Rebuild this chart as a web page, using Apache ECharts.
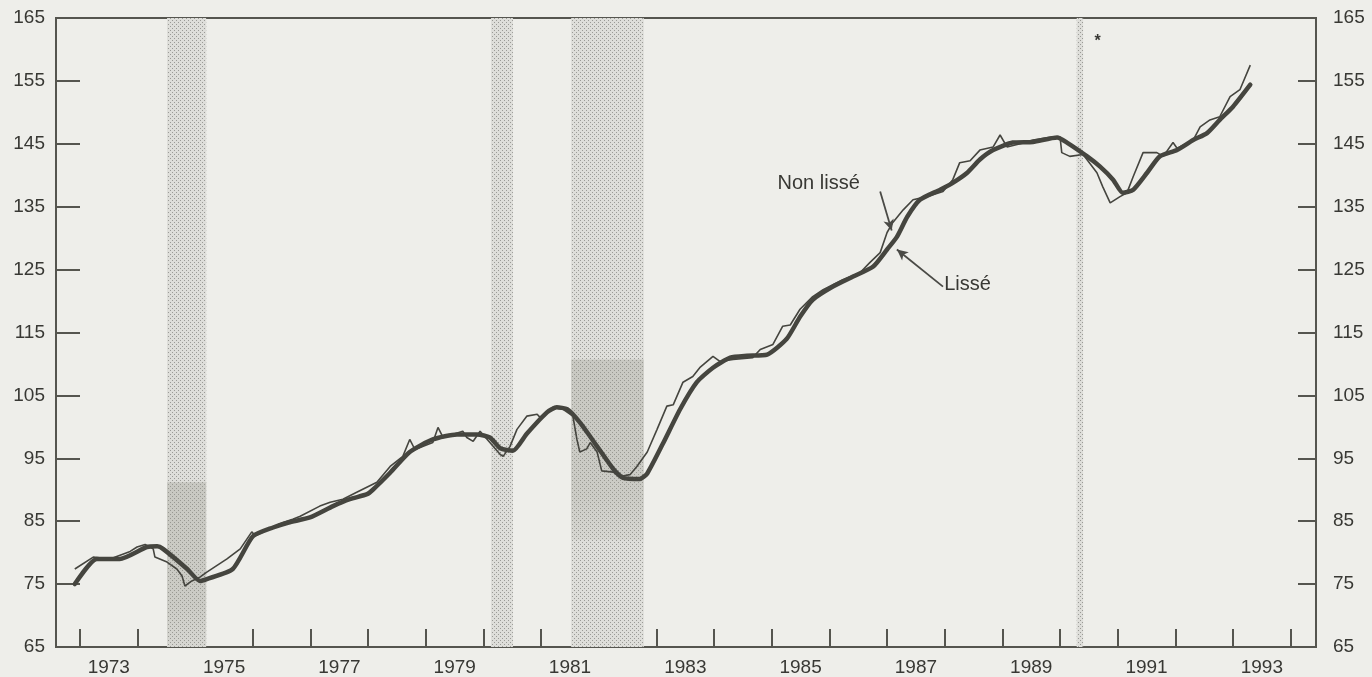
<!DOCTYPE html>
<html>
<head>
<meta charset="utf-8">
<script src="https://cdn.jsdelivr.net/npm/echarts@6/dist/echarts.min.js"></script>
<style>
  html, body { margin: 0; padding: 0; background: #eeeeea; }
  #chart { width: 1372px; height: 677px; }
</style>
</head>
<body>
<div id="chart"></div>
<script>
// series: [decimal year, index]
const nonLisse = [
  [1972.91, 77.4], [1973.23, 79.3], [1973.52, 79.0], [1973.87, 80.2], [1973.99, 80.9],
  [1974.13, 81.3], [1974.27, 80.6], [1974.30, 79.3], [1974.51, 78.5], [1974.68, 77.4],
  [1974.77, 76.3], [1974.82, 74.7], [1974.94, 75.5], [1975.08, 76.1], [1975.20, 76.9],
  [1975.55, 79.0], [1975.78, 80.6], [1975.98, 83.3], [1976.04, 82.7], [1976.52, 84.8],
  [1976.69, 85.3], [1976.82, 85.8], [1977.16, 87.4], [1977.34, 88.0], [1977.56, 88.5],
  [1977.80, 89.6], [1978.15, 91.2], [1978.38, 93.7], [1978.60, 95.3], [1978.72, 98.0],
  [1978.81, 96.4], [1979.12, 97.5], [1979.21, 99.9], [1979.30, 98.3], [1979.64, 99.3],
  [1979.71, 98.3], [1979.82, 97.7], [1979.94, 99.3], [1980.11, 97.5], [1980.29, 95.6],
  [1980.34, 95.3], [1980.46, 96.9], [1980.58, 99.6], [1980.75, 101.7], [1980.93, 102.0],
  [1980.98, 101.5], [1981.20, 103.1], [1981.38, 102.8], [1981.55, 101.7], [1981.62, 98.0],
  [1981.67, 96.0], [1981.79, 96.5], [1981.85, 97.5], [1981.97, 96.0], [1982.05, 93.0],
  [1982.25, 92.8], [1982.37, 92.1], [1982.54, 92.4], [1982.66, 93.7], [1982.84, 96.0],
  [1983.01, 99.6], [1983.18, 103.3], [1983.29, 103.5], [1983.46, 107.1], [1983.63, 108.0],
  [1983.75, 109.4], [1983.98, 111.2], [1984.10, 110.4], [1984.33, 110.7], [1984.67, 111.0],
  [1984.80, 112.3], [1985.02, 113.1], [1985.19, 116.0], [1985.32, 116.2], [1985.49, 118.7],
  [1985.71, 120.7], [1985.89, 121.8], [1986.23, 123.4], [1986.53, 124.5], [1986.70, 126.1],
  [1986.88, 127.7], [1987.00, 130.9], [1987.10, 132.5], [1987.28, 134.5], [1987.45, 136.1],
  [1987.69, 136.6], [1987.97, 137.4], [1988.14, 139.3], [1988.26, 142.0], [1988.44, 142.3],
  [1988.61, 144.0], [1988.84, 144.5], [1988.96, 146.4], [1989.08, 144.5], [1989.31, 145.0],
  [1989.53, 145.6], [1989.88, 146.1], [1990.00, 146.1], [1990.03, 143.6], [1990.17, 143.0],
  [1990.40, 143.3], [1990.64, 140.4], [1990.74, 138.2], [1990.87, 135.6], [1991.04, 136.6],
  [1991.16, 137.2], [1991.27, 139.8], [1991.44, 143.6], [1991.68, 143.6], [1991.79, 143.0],
  [1991.96, 145.2], [1992.03, 144.3], [1992.31, 145.6], [1992.43, 147.7], [1992.60, 148.8],
  [1992.77, 149.3], [1992.95, 152.5], [1993.12, 153.6], [1993.30, 157.5]
];

const lisse = [
  [1972.91, 75.0], [1973.29, 79.0], [1973.69, 79.0], [1974.16, 80.9], [1974.34, 81.0],
  [1974.44, 80.6], [1974.86, 77.4], [1975.08, 75.5], [1975.20, 75.8], [1975.65, 77.4],
  [1976.00, 82.6], [1976.35, 84.0], [1976.62, 84.8], [1976.99, 85.6], [1977.39, 87.4],
  [1977.68, 88.5], [1977.98, 89.3], [1978.08, 90.0], [1978.38, 92.7], [1978.72, 96.0],
  [1979.12, 98.0], [1979.54, 98.8], [1979.89, 98.8], [1980.11, 98.3], [1980.29, 96.6],
  [1980.51, 96.2], [1980.75, 98.9], [1981.10, 102.3], [1981.27, 103.1], [1981.45, 102.8],
  [1981.67, 100.7], [1981.97, 96.9], [1982.25, 93.3], [1982.42, 91.9], [1982.71, 91.7],
  [1982.84, 92.6], [1983.11, 97.3], [1983.41, 102.8], [1983.70, 107.1], [1983.98, 109.4],
  [1984.28, 111.0], [1984.57, 111.3], [1984.92, 111.5], [1985.26, 114.0], [1985.49, 117.5],
  [1985.71, 120.2], [1986.06, 122.3], [1986.41, 123.9], [1986.76, 125.5], [1987.00, 128.2],
  [1987.17, 130.2], [1987.35, 133.4], [1987.57, 136.1], [1987.92, 137.7], [1988.14, 138.8],
  [1988.39, 140.4], [1988.61, 142.5], [1988.84, 144.0], [1989.18, 145.2], [1989.53, 145.3],
  [1989.95, 146.0], [1990.12, 145.2], [1990.47, 143.0], [1990.69, 141.4], [1990.92, 139.3],
  [1991.09, 137.2], [1991.27, 137.7], [1991.51, 140.4], [1991.73, 143.0], [1992.03, 144.0],
  [1992.31, 145.6], [1992.55, 146.7], [1992.77, 148.8], [1993.00, 150.9], [1993.30, 154.4]
];

// récessions (bandes ombrées), années décimales
const recessions = [[1974.51, 1975.19], [1980.13, 1980.51], [1981.52, 1982.78], [1990.29, 1990.40]];
// zones plus sombres du document numérisé : [début, fin, bas, haut]
const darkPatches = [[1974.51, 1975.19, 65, 91.2], [1981.52, 1982.78, 82, 110.7]];

const yTicks = [75, 85, 95, 105, 115, 125, 135, 145, 155];
const yLabels = [65, 75, 85, 95, 105, 115, 125, 135, 145, 155, 165];
const xTicks = [1973, 1974, 1975, 1976, 1977, 1978, 1979, 1980, 1981, 1982, 1983,
  1984, 1985, 1986, 1987, 1988, 1989, 1990, 1991, 1992, 1993, 1994];
const xLabels = [1973.5, 1975.5, 1977.5, 1979.5, 1981.5, 1983.5, 1985.5, 1987.5, 1989.5, 1991.5, 1993.5];

// annotations
const noteNonLisse = { text: 'Non lissé', at: [1985.1, 138.7], from: [1986.88, 137.4], to: [1987.08, 131.2] };
const noteLisse = { text: 'Lissé', at: [1987.99, 122.6], from: [1987.97, 122.3], to: [1987.17, 128.2] };
const noteStar = { text: '*', at: [1990.6, 161.3] };

const ink = '#45453f';
const axisColor = '#55554f';
const font = "'Liberation Sans', Arial, sans-serif";

// trame pointillée des bandes
function stipple() {
  const c = document.createElement('canvas');
  c.width = 4; c.height = 4;
  const g = c.getContext('2d');
  g.fillStyle = '#dededa';
  g.fillRect(0, 0, 4, 4);
  g.fillStyle = '#9a9a96';
  g.fillRect(0, 0, 1, 1);
  g.fillRect(2, 2, 1, 1);
  return c;
}
const dots = { image: stipple(), repeat: 'repeat' };

const chart = echarts.init(document.getElementById('chart'));

function yAxisCfg(pos, tickLen, margin) {
  return {
    type: 'value', position: pos, min: 65, max: 165,
    axisLine: { show: false },
    splitLine: { show: false },
    axisTick: { show: true, inside: true, length: tickLen, customValues: yTicks,
      lineStyle: { color: axisColor, width: 2 } },
    axisLabel: { customValues: yLabels, margin: margin, fontSize: 19, color: '#383834', fontFamily: font }
  };
}

const option = {
  backgroundColor: '#eeeeea',
  animation: false,
  grid: { left: 56, right: 56, top: 18, bottom: 29, show: true, borderColor: axisColor, borderWidth: 2 },
  xAxis: {
    type: 'value', min: 1972.584, max: 1994.44,
    axisLine: { show: false },
    splitLine: { show: false },
    axisTick: { show: true, inside: true, length: 18, customValues: xTicks,
      lineStyle: { color: axisColor, width: 2 } },
    axisLabel: { customValues: xLabels, margin: 11, fontSize: 19, color: '#383834', fontFamily: font,
      formatter: v => String(Math.floor(v)) }
  },
  yAxis: [yAxisCfg('left', 24, 11), yAxisCfg('right', 18, 17)],
  series: [
    {
      name: 'Récessions', type: 'line', data: [], silent: true, z: 1,
      markArea: {
        silent: true,
        itemStyle: { color: dots },
        data: recessions.map(r => [{ xAxis: r[0], yAxis: 65 }, { xAxis: r[1], yAxis: 165 }])
      }
    },
    {
      name: 'Ombre', type: 'line', data: [], silent: true, z: 2,
      markArea: {
        silent: true,
        itemStyle: {
          color: { type: 'linear', x: 0, y: 0, x2: 0, y2: 1, colorStops: [
            { offset: 0, color: 'rgba(150,150,138,0.3)' },
            { offset: 0.75, color: 'rgba(150,150,138,0.26)' },
            { offset: 1, color: 'rgba(150,150,138,0.1)' }
          ] }
        },
        data: darkPatches.map(p => [{ xAxis: p[0], yAxis: p[2] }, { xAxis: p[1], yAxis: p[3] }])
      }
    },
    {
      name: 'Non lissé', type: 'line', data: nonLisse, showSymbol: false, z: 3,
      lineStyle: { color: ink, width: 1.6 },
      markLine: {
        silent: true, symbol: ['none', 'arrow'], symbolSize: [8, 11],
        lineStyle: { color: '#4a4a46', width: 1.8, type: 'solid' },
        label: { show: false },
        data: [
          [{ coord: noteNonLisse.from }, { coord: noteNonLisse.to }],
          [{ coord: noteLisse.from }, { coord: noteLisse.to }]
        ]
      },
      markPoint: {
        silent: true, symbol: 'circle', symbolSize: 0,
        label: { show: true, position: 'right', distance: 0, color: '#383834', fontSize: 20, fontFamily: font },
        data: [
          { coord: noteNonLisse.at, value: noteNonLisse.text, label: { formatter: noteNonLisse.text } },
          { coord: noteLisse.at, value: noteLisse.text, label: { formatter: noteLisse.text } },
          { coord: noteStar.at, value: noteStar.text, label: { formatter: noteStar.text, fontSize: 16, fontWeight: 'bold' } }
        ]
      }
    },
    {
      name: 'Lissé', type: 'line', data: lisse, showSymbol: false, z: 4,
      smooth: 0.2,
      lineStyle: { color: ink, width: 4.5, cap: 'round', join: 'round' }
    }
  ]
};

chart.setOption(option);
</script>
</body>
</html>
